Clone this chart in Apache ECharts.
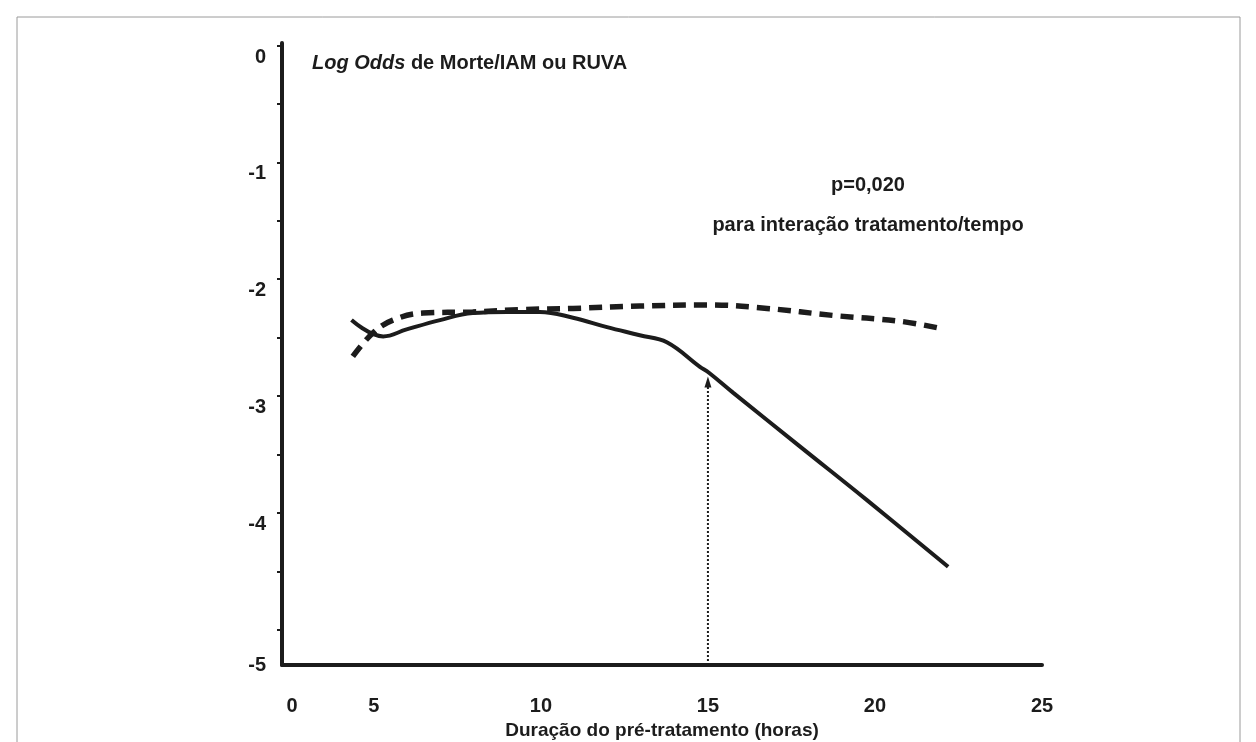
<!DOCTYPE html>
<html>
<head>
<meta charset="utf-8">
<script src="https://cdn.jsdelivr.net/npm/echarts@6/dist/echarts.min.js"></script>
<style>
  html, body { margin: 0; padding: 0; background: #fff; }
  #chart { width: 1256px; height: 742px; }
</style>
</head>
<body>
<div id="chart"></div>
<script>
// curves (hours, log odds)
var solidX = [4.33, 5.28, 5.98, 6.98, 7.96, 8.98, 9.97, 10.96, 11.98, 12.96, 13.77, 14.76, 15.03, 15.75, 17.75, 19.76, 22.19]
var solidY = [-2.25, -2.39, -2.33, -2.25, -2.19, -2.18, -2.18, -2.23, -2.31, -2.38, -2.44, -2.65, -2.70, -2.87, -3.33, -3.79, -4.36]
var dashedX = [4.37, 4.97, 5.57, 6.47, 7.96, 9.46, 10.96, 12.96, 14.97, 16.77, 18.74, 20.75, 21.95]
var dashedY = [-2.56, -2.36, -2.25, -2.19, -2.18, -2.16, -2.15, -2.13, -2.12, -2.15, -2.21, -2.26, -2.32]
var arrowX = [15, 15]
var arrowY = [-5.2, -2.78]

// axes as drawn in the original (origin is labelled 0 / -5)
var xMin = 2.25, xMax = 25
var xTickValues = [2.55, 5, 10, 15, 20, 25]
var xTickLabels = ['0', '5', '10', '15', '20', '25']
var yMin = -5.2, yMax = 0.12
var yTickValues = [0, -1, -2, -3, -4, -5.2]
var yTickLabels = ['0', '-1', '-2', '-3', '-4', '-5']
var yTickMarks = [0.1, -0.4, -0.9, -1.4, -1.9, -2.4, -2.9, -3.4, -3.9, -4.4, -4.9]

function pairs(xs, ys) {
    return xs.map(function (x, i) { return [x, ys[i]] })
}
function pick(values, labels, v) {
    var best = 0
    values.forEach(function (t, i) {
        if (Math.abs(t - v) < Math.abs(values[best] - v)) best = i
    })
    return labels[best]
}

var font = 'Liberation Sans'
var ink = '#1c1c1c'

var dom = echarts.init(document.getElementById('chart'))
dom.setOption({
    backgroundColor: '#fff',
    animation: false,
    title: {
        text: '{i|Log Odds}{b| de Morte/IAM ou RUVA}',
        left: 312,
        top: 53,
        padding: 0,
        textStyle: {
            rich: {
                i: { fontFamily: font, fontSize: 20, fontWeight: 'bold', fontStyle: 'italic', color: ink },
                b: { fontFamily: font, fontSize: 20, fontWeight: 'bold', color: ink }
            }
        }
    },
    graphic: [
        {
            type: 'rect',
            shape: { x: 17, y: 17, width: 1223, height: 760 },
            style: { fill: 'none', stroke: '#9a9a9a', lineWidth: 1 },
            silent: true
        },
        {
            type: 'text',
            x: 868, y: 185,
            style: { text: 'p=0,020', font: 'bold 20px "Liberation Sans"', fill: ink, textAlign: 'center', textVerticalAlign: 'middle' }
        },
        {
            type: 'text',
            x: 868, y: 225,
            style: { text: 'para interação tratamento/tempo', font: 'bold 20px "Liberation Sans"', fill: ink, textAlign: 'center', textVerticalAlign: 'middle' }
        }
    ],
    grid: { left: 282, right: 214, top: 43, bottom: 77, outerBoundsMode: 'none' },
    xAxis: {
        type: 'value',
        min: xMin,
        max: xMax,
        name: 'Duração do pré-tratamento (horas)',
        nameLocation: 'middle',
        nameGap: 54,
        nameTextStyle: { fontFamily: font, fontSize: 19, fontWeight: 'bold', color: ink },
        axisLine: { show: true, onZero: false, lineStyle: { color: ink, width: 4 } },
        axisTick: { show: false },
        splitLine: { show: false },
        axisLabel: {
            customValues: xTickValues,
            showMinLabel: true,
            showMaxLabel: true,
            margin: 31,
            fontFamily: font, fontSize: 20, fontWeight: 'bold', color: ink,
            formatter: function (v) { return pick(xTickValues, xTickLabels, v) }
        }
    },
    yAxis: {
        type: 'value',
        min: yMin,
        max: yMax,
        axisLine: { show: true, onZero: false, lineStyle: { color: ink, width: 4 } },
        axisTick: { show: true, customValues: yTickMarks, length: 5, lineStyle: { color: ink, width: 2 } },
        splitLine: { show: false },
        axisLabel: {
            customValues: yTickValues,
            showMinLabel: true,
            showMaxLabel: true,
            margin: 16,
            padding: [8, 0, 0, 0],
            fontFamily: font, fontSize: 20, fontWeight: 'bold', color: ink,
            formatter: function (v) { return pick(yTickValues, yTickLabels, v) }
        }
    },
    series: [
        {
            name: 'dashed',
            type: 'line',
            smooth: 0.4,
            showSymbol: false,
            data: pairs(dashedX, dashedY),
            lineStyle: { color: ink, width: 5.5, type: [13, 8] }
        },
        {
            name: 'solid',
            type: 'line',
            smooth: 0.4,
            showSymbol: false,
            data: pairs(solidX, solidY),
            lineStyle: { color: ink, width: 4 }
        },
        {
            name: 'arrow',
            type: 'line',
            data: pairs(arrowX, arrowY).map(function (p, i) {
                return { value: p, symbol: i === 0 ? 'none' : 'triangle' }
            }),
            showSymbol: true,
            symbolSize: [7, 11],
            itemStyle: { color: ink },
            lineStyle: { color: ink, width: 2, type: [2, 2] }
        }
    ]
})
</script>
</body>
</html>
